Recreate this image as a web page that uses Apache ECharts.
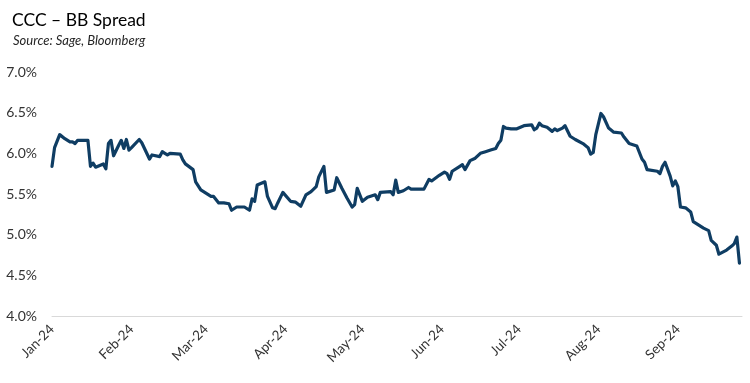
<!DOCTYPE html>
<html>
<head>
<meta charset="utf-8">
<script src="https://cdn.jsdelivr.net/npm/echarts@6/dist/echarts.min.js"></script>
<style>
html,body{margin:0;padding:0;background:#fff;}
#c{width:750px;height:383px;}
</style>
</head>
<body>
<div id="c"></div>
<script>
const titleText = 'CCC – BB Spread';
const sourceText = 'Source: Sage, Bloomberg';
const yTicks = [4.0, 4.5, 5.0, 5.5, 6.0, 6.5, 7.0];
const monthTicks = ['2024-01-02','2024-02-02','2024-03-02','2024-04-02','2024-05-02','2024-06-02','2024-07-02','2024-08-02','2024-09-02'];
const axisStart = '2024-01-02';
const axisEnd = '2024-09-27';
const dates = [
'2024-01-02','2024-01-03','2024-01-05','2024-01-07','2024-01-09','2024-01-10','2024-01-11','2024-01-12','2024-01-16','2024-01-17',
'2024-01-18','2024-01-19','2024-01-22','2024-01-23','2024-01-24','2024-01-25','2024-01-26','2024-01-28','2024-01-29','2024-01-30',
'2024-01-31','2024-02-01','2024-02-02','2024-02-05','2024-02-06','2024-02-09','2024-02-10','2024-02-13','2024-02-14','2024-02-15',
'2024-02-16','2024-02-17','2024-02-21','2024-02-22','2024-02-23','2024-02-26','2024-02-27','2024-02-29','2024-03-02','2024-03-04',
'2024-03-05','2024-03-06','2024-03-07','2024-03-09','2024-03-11','2024-03-12','2024-03-14','2024-03-17','2024-03-19','2024-03-20',
'2024-03-21','2024-03-22','2024-03-25','2024-03-26','2024-03-28','2024-03-29','2024-03-30','2024-04-01','2024-04-04','2024-04-06',
'2024-04-08','2024-04-10','2024-04-12','2024-04-14','2024-04-15','2024-04-17','2024-04-18','2024-04-21','2024-04-22','2024-04-24',
'2024-04-26','2024-04-28','2024-04-29','2024-04-30','2024-05-02','2024-05-04','2024-05-07','2024-05-08','2024-05-09','2024-05-13',
'2024-05-14','2024-05-15','2024-05-16','2024-05-18','2024-05-20','2024-05-21','2024-05-23','2024-05-26','2024-05-28','2024-05-29',
'2024-06-01','2024-06-03','2024-06-04','2024-06-05','2024-06-06','2024-06-09','2024-06-10','2024-06-11','2024-06-13','2024-06-15',
'2024-06-17','2024-06-19','2024-06-21','2024-06-23','2024-06-24','2024-06-25','2024-06-26','2024-06-27','2024-06-29','2024-07-01',
'2024-07-04','2024-07-07','2024-07-08','2024-07-09','2024-07-10','2024-07-11','2024-07-13','2024-07-15','2024-07-16','2024-07-17',
'2024-07-19','2024-07-20','2024-07-22','2024-07-24','2024-07-27','2024-07-29','2024-07-30','2024-07-31','2024-08-01','2024-08-03',
'2024-08-04','2024-08-06','2024-08-08','2024-08-11','2024-08-12','2024-08-14','2024-08-17','2024-08-19','2024-08-20','2024-08-21',
'2024-08-25','2024-08-26','2024-08-27','2024-08-28','2024-08-30','2024-08-31','2024-09-01','2024-09-02','2024-09-03','2024-09-05',
'2024-09-07','2024-09-08','2024-09-10','2024-09-12','2024-09-14','2024-09-15','2024-09-17','2024-09-18','2024-09-21','2024-09-23',
'2024-09-24','2024-09-25','2024-09-26'
];
const spread = [
5.84,6.07,6.23,6.18,6.14,6.14,6.12,6.16,6.16,5.84,
5.88,5.83,5.87,5.81,6.12,6.16,5.97,6.10,6.16,6.06,
6.17,6.04,6.07,6.17,6.13,5.93,5.98,5.96,6.02,6.00,
5.98,6.00,5.99,5.92,5.87,5.80,5.65,5.55,5.51,5.47,
5.47,5.43,5.39,5.39,5.38,5.30,5.34,5.34,5.30,5.44,
5.41,5.61,5.65,5.47,5.33,5.32,5.39,5.52,5.41,5.40,
5.35,5.49,5.53,5.59,5.71,5.84,5.52,5.55,5.70,5.57,
5.45,5.34,5.37,5.57,5.41,5.46,5.49,5.43,5.52,5.53,
5.49,5.67,5.52,5.54,5.58,5.56,5.56,5.56,5.68,5.66,
5.73,5.77,5.75,5.68,5.78,5.84,5.86,5.80,5.91,5.94,
6.00,6.02,6.04,6.06,6.12,6.16,6.33,6.31,6.30,6.30,
6.34,6.35,6.29,6.31,6.37,6.34,6.32,6.27,6.30,6.28,
6.31,6.34,6.21,6.17,6.12,6.07,5.99,6.01,6.23,6.49,
6.45,6.31,6.26,6.25,6.20,6.12,6.09,5.93,5.89,5.80,
5.78,5.75,5.84,5.89,5.72,5.60,5.66,5.59,5.34,5.33,
5.28,5.16,5.12,5.08,5.05,4.93,4.87,4.76,4.81,4.86,
4.89,4.97,4.65
];

const toTs = s => Date.UTC(+s.slice(0, 4), +s.slice(5, 7) - 1, +s.slice(8, 10));
const seriesData = dates.map((d, i) => [toTs(d), spread[i]]);
const monNames = ['Jan','Feb','Mar','Apr','May','Jun','Jul','Aug','Sep','Oct','Nov','Dec'];
const font = "Lato, 'Open Sans', 'Liberation Sans', sans-serif";

const chart = echarts.init(document.getElementById('c'), null, {renderer: 'canvas'});
chart.setOption({
  animation: false,
  backgroundColor: '#ffffff',
  title: [
    {text: titleText, left: 7, top: 6, textStyle: {fontFamily: font, fontSize: 17.5, fontWeight: 'normal', color: '#000000'}},
    {text: sourceText, left: 8, top: 29, textStyle: {fontFamily: font, fontSize: 13, fontStyle: 'italic', fontWeight: 'normal', color: '#262626'}}
  ],
  grid: {left: 52, right: 8, top: 72, bottom: 67, containLabel: false},
  xAxis: {
    type: 'value',
    min: toTs(axisStart),
    max: toTs(axisEnd),
    axisLine: {show: true, onZero: false, lineStyle: {color: '#d9d9d9', width: 1}},
    axisTick: {show: false},
    splitLine: {show: false},
    axisLabel: {
      customValues: monthTicks.map(toTs),
      rotate: 45,
      margin: 11,
      fontFamily: font,
      fontSize: 13.5,
      color: '#333333',
      showMinLabel: true,
      showMaxLabel: true,
      hideOverlap: false,
      formatter: function (v) {
        const d = new Date(v);
        return monNames[d.getUTCMonth()] + '-' + String(d.getUTCFullYear()).slice(2);
      }
    }
  },
  yAxis: {
    type: 'value',
    min: yTicks[0],
    max: yTicks[yTicks.length - 1],
    interval: 0.5,
    axisLine: {show: false},
    axisTick: {show: false},
    splitLine: {show: false},
    axisLabel: {
      fontFamily: font,
      fontSize: 14,
      color: '#333333',
      margin: 15,
      formatter: v => v.toFixed(1) + '%'
    }
  },
  series: [{
    type: 'line',
    data: seriesData,
    showSymbol: false,
    symbol: 'none',
    lineStyle: {color: '#0f3d63', width: 3.2, join: 'round', cap: 'round'},
    z: 3
  }]
});
</script>
</body>
</html>
